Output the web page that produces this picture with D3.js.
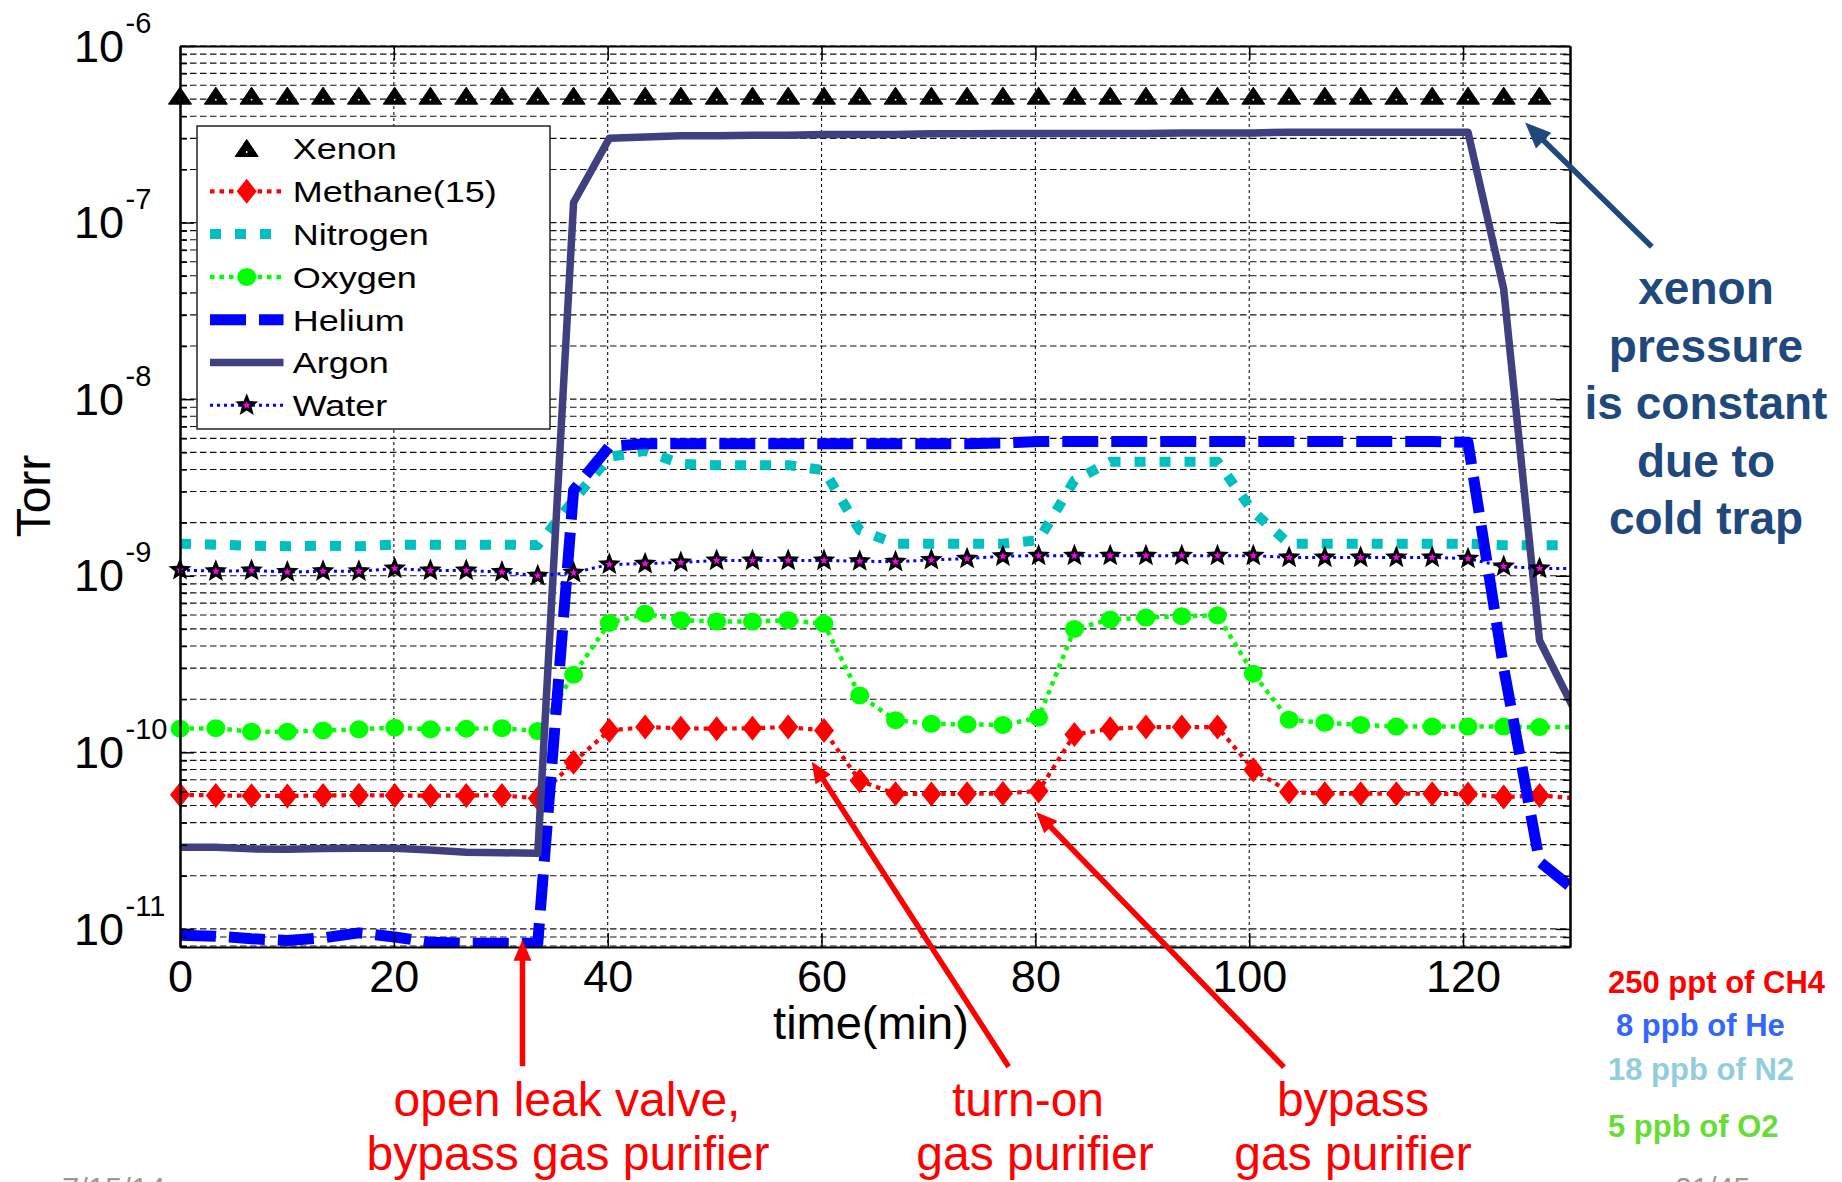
<!DOCTYPE html>
<html>
<head>
<meta charset="utf-8">
<script src="https://cdn.jsdelivr.net/npm/d3@7"></script>
<style>
  body { margin: 0; background: #fff; }
  text { font-family: 'Liberation Sans', Arial, sans-serif; }
</style>
</head>
<body>
<div id="chart"></div>
<script>
// sample times (min) shared by every gas
var times = [0, 3.35, 6.69, 10.04, 13.38, 16.73, 20.08, 23.42, 26.77, 30.11,
  33.46, 36.81, 40.15, 43.5, 46.84, 50.19, 53.54, 56.88, 60.23, 63.57,
  66.92, 70.27, 73.61, 76.96, 80.3, 83.65, 87, 90.34, 93.69, 97.03,
  100.38, 103.73, 107.07, 110.42, 113.76, 117.11, 120.46, 123.8, 127.15, 130.49]

// partial pressures (Torr)
var xenon = [5.2e-7, 5.2e-7, 5.2e-7, 5.2e-7, 5.2e-7, 5.2e-7, 5.2e-7, 5.2e-7, 5.2e-7, 5.2e-7,
  5.2e-7, 5.2e-7, 5.2e-7, 5.2e-7, 5.2e-7, 5.2e-7, 5.2e-7, 5.2e-7, 5.2e-7, 5.2e-7,
  5.2e-7, 5.2e-7, 5.2e-7, 5.2e-7, 5.2e-7, 5.2e-7, 5.2e-7, 5.2e-7, 5.2e-7, 5.2e-7,
  5.2e-7, 5.2e-7, 5.2e-7, 5.2e-7, 5.2e-7, 5.2e-7, 5.2e-7, 5.2e-7, 5.2e-7, 5.2e-7]

var methane = [5.75e-11, 5.7e-11, 5.68e-11, 5.66e-11, 5.7e-11, 5.72e-11, 5.7e-11, 5.68e-11, 5.7e-11, 5.7e-11,
  5.5e-11, 8.8e-11, 1.33e-10, 1.39e-10, 1.37e-10, 1.36e-10, 1.37e-10, 1.39e-10, 1.33e-10, 6.9e-11,
  5.83e-11, 5.8e-11, 5.83e-11, 5.85e-11, 6.04e-11, 1.26e-10, 1.36e-10, 1.39e-10, 1.39e-10, 1.39e-10,
  7.98e-11, 5.96e-11, 5.83e-11, 5.83e-11, 5.83e-11, 5.83e-11, 5.8e-11, 5.58e-11, 5.7e-11, 5.5e-11]

var nitrogen = [1.52e-9, 1.5e-9, 1.48e-9, 1.47e-9, 1.48e-9, 1.47e-9, 1.5e-9, 1.5e-9, 1.5e-9, 1.5e-9,
  1.49e-9, 2.68e-9, 4.7e-9, 5.1e-9, 4.3e-9, 4.23e-9, 4.23e-9, 4.23e-9, 3.96e-9, 1.81e-9,
  1.52e-9, 1.52e-9, 1.52e-9, 1.52e-9, 1.59e-9, 3.47e-9, 4.42e-9, 4.42e-9, 4.42e-9, 4.42e-9,
  2.3e-9, 1.52e-9, 1.52e-9, 1.52e-9, 1.52e-9, 1.52e-9, 1.52e-9, 1.49e-9, 1.49e-9, 1.49e-9]

var oxygen = [1.36e-10, 1.37e-10, 1.31e-10, 1.31e-10, 1.33e-10, 1.35e-10, 1.38e-10, 1.35e-10, 1.36e-10, 1.37e-10,
  1.32e-10, 2.75e-10, 5.4e-10, 6.1e-10, 5.6e-10, 5.5e-10, 5.5e-10, 5.6e-10, 5.35e-10, 2.1e-10,
  1.52e-10, 1.45e-10, 1.44e-10, 1.43e-10, 1.57e-10, 5.0e-10, 5.65e-10, 5.8e-10, 5.9e-10, 5.97e-10,
  2.79e-10, 1.53e-10, 1.47e-10, 1.43e-10, 1.4e-10, 1.4e-10, 1.4e-10, 1.4e-10, 1.39e-10, 1.39e-10]

var helium = [9.2e-12, 9.1e-12, 8.8e-12, 8.6e-12, 8.9e-12, 9.5e-12, 9.0e-12, 8.4e-12, 8.3e-12, 8.3e-12,
  8.3e-12, 3.05e-9, 5.4e-9, 5.6e-9, 5.6e-9, 5.6e-9, 5.6e-9, 5.6e-9, 5.6e-9, 5.6e-9,
  5.6e-9, 5.6e-9, 5.6e-9, 5.65e-9, 5.75e-9, 5.75e-9, 5.75e-9, 5.75e-9, 5.75e-9, 5.75e-9,
  5.75e-9, 5.75e-9, 5.75e-9, 5.75e-9, 5.75e-9, 5.75e-9, 5.7e-9, 3.0e-10, 2.4e-11, 1.65e-11]

var argon = [2.9e-11, 2.9e-11, 2.84e-11, 2.83e-11, 2.85e-11, 2.86e-11, 2.86e-11, 2.8e-11, 2.72e-11, 2.7e-11,
  2.68e-11, 1.3e-7, 3.0e-7, 3.05e-7, 3.1e-7, 3.1e-7, 3.12e-7, 3.12e-7, 3.15e-7, 3.15e-7,
  3.15e-7, 3.18e-7, 3.18e-7, 3.2e-7, 3.2e-7, 3.2e-7, 3.2e-7, 3.2e-7, 3.22e-7, 3.22e-7,
  3.22e-7, 3.25e-7, 3.25e-7, 3.25e-7, 3.25e-7, 3.25e-7, 3.25e-7, 4.2e-8, 4.3e-10, 1.7e-10]

var water = [1.08e-9, 1.06e-9, 1.07e-9, 1.05e-9, 1.06e-9, 1.06e-9, 1.1e-9, 1.07e-9, 1.07e-9, 1.05e-9,
  1.0e-9, 1.04e-9, 1.16e-9, 1.17e-9, 1.19e-9, 1.22e-9, 1.22e-9, 1.22e-9, 1.22e-9, 1.21e-9,
  1.2e-9, 1.23e-9, 1.25e-9, 1.29e-9, 1.3e-9, 1.3e-9, 1.3e-9, 1.3e-9, 1.3e-9, 1.3e-9,
  1.3e-9, 1.27e-9, 1.27e-9, 1.27e-9, 1.27e-9, 1.27e-9, 1.25e-9, 1.13e-9, 1.1e-9, 1.1e-9]

var xTicks = [0, 20, 40, 60, 80, 100, 120]
var xGrid = [20, 40, 60, 80, 100, 120]
var yDecades = [-11, -10, -9, -8, -7, -6]

// annotation arrows: [time, Torr] at the tail and at the tip
var arrows = [
  { from: [32.03, 1.67e-12], to: [32.03, 8.67e-12], color: '#ff0000' },
  { from: [77.5, 1.66e-12], to: [59.08, 8.85e-11], color: '#ff0000' },
  { from: [103.25, 1.65e-12], to: [80.06, 4.6e-11], color: '#ff0000' },
  { from: [137.65, 7.3e-8], to: [125.8, 3.69e-7], color: '#1f497d' }
]

var notes = [
  { lines: ['open leak valve,', 'bypass gas purifier'], x: [567, 568] },
  { lines: ['turn-on', 'gas purifier'], x: [1028, 1035] },
  { lines: ['bypass', 'gas purifier'], x: [1353, 1353] }
]

var xenonNote = ['xenon', 'pressure', 'is constant', 'due to', 'cold trap']

var mixNotes = [
  { label: '250 ppt of CH4', color: '#ff0000' },
  { label: '8 ppb of He', color: '#3366ff' },
  { label: '18 ppb of N2', color: '#92cddc' },
  { label: '5 ppb of O2', color: '#66dd33' }
]

var width = 1842
var height = 1182
var plot = { left: 180, right: 1570, top: 46, bottom: 947 }

var svg = d3
  .select('#chart')
  .append('svg')
  .attr('width', width)
  .attr('height', height)

var x = d3.scaleLinear().domain([0, 130]).range([plot.left, plot.right])
var y = d3.scaleLog().domain([7.9e-12, 1e-6]).range([plot.bottom, plot.top])

var allTicks = y.ticks()
var isMajor = d => Math.abs(Math.log10(d) - Math.round(Math.log10(d))) < 1e-6
var majorTicks = allTicks.filter(isMajor)
var minorTicks = allTicks.filter(d => !isMajor(d))

svg.append('defs')
  .append('clipPath')
  .attr('id', 'plot-clip')
  .append('rect')
  .attr('x', plot.left)
  .attr('y', plot.top)
  .attr('width', plot.right - plot.left)
  .attr('height', plot.bottom - plot.top)

// grid
var grid = svg.append('g').attr('class', 'grid')
grid.selectAll('.hgrid')
  .data(allTicks)
  .enter()
  .append('line')
  .attr('x1', plot.left)
  .attr('x2', plot.right)
  .attr('y1', d => y(d))
  .attr('y2', d => y(d))
  .attr('stroke', '#111')
  .attr('stroke-width', 1.1)
  .attr('stroke-dasharray', '6.5,3.5')

grid.selectAll('.vgrid')
  .data(xGrid)
  .enter()
  .append('line')
  .attr('x1', d => x(d))
  .attr('x2', d => x(d))
  .attr('y1', plot.top)
  .attr('y2', plot.bottom)
  .attr('stroke', '#111')
  .attr('stroke-width', 1.1)
  .attr('stroke-dasharray', '3,3')

// markers
function starPath(R, r) {
  var pts = []
  for (var k = 0; k < 10; k++) {
    var a = -Math.PI / 2 + k * Math.PI / 5
    var rad = k % 2 ? r : R
    pts.push([rad * Math.cos(a), rad * Math.sin(a)])
  }
  return 'M' + pts.map(p => p[0].toFixed(2) + ',' + p[1].toFixed(2)).join('L') + 'Z'
}

function drawMarker(g, type, color) {
  if (type === 'triangle') {
    g.append('path').attr('d', 'M0,-9L11.5,8L-11.5,8Z').attr('fill', '#000')
      .attr('stroke', '#000').attr('stroke-width', 1).attr('stroke-linejoin', 'round')
    g.append('circle').attr('cy', 3.5).attr('r', 0.9).attr('fill', '#fff')
  } else if (type === 'diamond') {
    g.append('path').attr('d', 'M0,-12.5L10,0L0,12.5L-10,0Z').attr('fill', color)
  } else if (type === 'circle') {
    g.append('ellipse').attr('rx', 9.5).attr('ry', 9).attr('fill', color)
  } else if (type === 'star') {
    g.append('path').attr('d', starPath(12, 5.2)).attr('fill', '#000')
    g.append('path').attr('d', starPath(4.2, 1.8)).attr('fill', '#ff00ff')
  }
}

var series = [
  { name: 'Xenon', values: xenon, color: '#000', width: 0, dash: null, marker: 'triangle' },
  { name: 'Methane(15)', values: methane, color: '#ff0000', width: 4.2, dash: '4.5,5', marker: 'diamond' },
  { name: 'Nitrogen', values: nitrogen, color: '#00bfbf', width: 10, dash: '11,14', marker: null },
  { name: 'Oxygen', values: oxygen, color: '#00ff00', width: 4.5, dash: '4.5,5', marker: 'circle' },
  { name: 'Helium', values: helium, color: '#0000ff', width: 11, dash: '36,13', marker: null },
  { name: 'Argon', values: argon, color: '#404080', width: 7.5, dash: null, marker: null },
  { name: 'Water', values: water, color: '#0000ff', width: 3, dash: '3,4', marker: 'star' }
]

var line = d3
  .line()
  .x((d, i) => x(times[i]))
  .y(d => y(d))

var data = svg.append('g').attr('class', 'data')

series.forEach(s => {
  if (s.width > 0) {
    data.append('path')
      .datum(s.values)
      .attr('clip-path', 'url(#plot-clip)')
      .attr('d', line)
      .attr('fill', 'none')
      .attr('stroke', s.color)
      .attr('stroke-width', s.width)
      .attr('stroke-dasharray', s.dash)
      .attr('stroke-linejoin', 'round')
  }
  if (s.marker) {
    var pts = s.values
      .map((v, i) => ({ t: times[i], v: v }))
      .filter(d => d.t <= 130)
    data.selectAll(null)
      .data(pts)
      .enter()
      .append('g')
      .attr('transform', d => 'translate(' + x(d.t) + ',' + y(d.v) + ')')
      .each(function () { drawMarker(d3.select(this), s.marker, s.color) })
  }
})

// axes (ticks point inward, as in MATLAB)
function styleAxis(g) {
  g.select('.domain').attr('stroke', '#000').attr('stroke-width', 2)
  g.selectAll('.tick line').attr('stroke', '#000').attr('stroke-width', 1.5)
}

svg.append('g')
  .attr('transform', 'translate(0,' + plot.bottom + ')')
  .call(d3.axisBottom(x).tickValues(xTicks).tickSizeInner(-14).tickSizeOuter(0)
    .tickPadding(13).tickFormat(d3.format('d')))
  .call(styleAxis)
  .call(g => g.selectAll('.tick text')
    .attr('font-size', 45)
    .attr('font-family', "'Liberation Sans', Arial, sans-serif")
    .attr('fill', '#000'))

svg.append('g')
  .attr('transform', 'translate(0,' + plot.top + ')')
  .call(d3.axisTop(x).tickValues(xTicks).tickSizeInner(-14).tickSizeOuter(0).tickFormat(''))
  .call(styleAxis)

svg.append('g')
  .attr('transform', 'translate(' + plot.left + ',0)')
  .call(d3.axisLeft(y).tickValues(majorTicks).tickSizeInner(-14).tickSizeOuter(0).tickFormat(''))
  .call(styleAxis)
svg.append('g')
  .attr('transform', 'translate(' + plot.left + ',0)')
  .call(d3.axisLeft(y).tickValues(minorTicks).tickSizeInner(-7).tickSizeOuter(0).tickFormat(''))
  .call(styleAxis)

svg.append('g')
  .attr('transform', 'translate(' + plot.right + ',0)')
  .call(d3.axisRight(y).tickValues(majorTicks).tickSizeInner(-14).tickSizeOuter(0).tickFormat(''))
  .call(styleAxis)
svg.append('g')
  .attr('transform', 'translate(' + plot.right + ',0)')
  .call(d3.axisRight(y).tickValues(minorTicks).tickSizeInner(-7).tickSizeOuter(0).tickFormat(''))
  .call(styleAxis)

// y tick labels 10^k
var ylab = svg.append('g')
ylab.selectAll('.base')
  .data(yDecades)
  .enter()
  .append('text')
  .attr('x', 124)
  .attr('y', d => y(Math.pow(10, d)) + 15.7)
  .attr('text-anchor', 'end')
  .attr('font-size', 45)
  .text('10')
ylab.selectAll('.expo')
  .data(yDecades)
  .enter()
  .append('text')
  .attr('x', 125.5)
  .attr('y', d => y(Math.pow(10, d)) - 13.3)
  .attr('font-size', 29)
  .text(d => '-' + Math.abs(d))

svg.append('text')
  .attr('x', 871)
  .attr('y', 1039)
  .attr('text-anchor', 'middle')
  .attr('font-size', 47)
  .text('time(min)')

svg.append('text')
  .attr('transform', 'translate(50,496) rotate(-90)')
  .attr('text-anchor', 'middle')
  .attr('font-size', 48)
  .text('Torr')

// legend
var legend = svg.append('g')
legend.append('rect')
  .attr('x', 197)
  .attr('y', 126)
  .attr('width', 353)
  .attr('height', 303)
  .attr('fill', '#fff')
  .attr('stroke', '#222')
  .attr('stroke-width', 1.5)

series.forEach((s, i) => {
  var ly = 148.5 + i * 42.8
  if (s.width > 0) {
    legend.append('line')
      .attr('x1', 210)
      .attr('x2', 283.5)
      .attr('y1', ly)
      .attr('y2', ly)
      .attr('stroke', s.color)
      .attr('stroke-width', s.width)
      .attr('stroke-dasharray', s.dash)
  }
  if (s.marker) {
    drawMarker(legend.append('g').attr('transform', 'translate(246.7,' + ly + ')'), s.marker, s.color)
  }
  legend.append('g')
    .attr('transform', 'translate(292.7,' + ly + ') scale(1.2,1)')
    .append('text')
    .attr('dy', '0.36em')
    .attr('font-size', 30)
    .attr('fill', '#000')
    .text(s.name)
})

// annotation arrows
var arrowLayer = svg.append('g')
arrows.forEach(a => {
  var p0 = [x(a.from[0]), y(a.from[1])]
  var p1 = [x(a.to[0]), y(a.to[1])]
  var dx = p1[0] - p0[0]
  var dy = p1[1] - p0[1]
  var len = Math.sqrt(dx * dx + dy * dy)
  var ux = dx / len
  var uy = dy / len
  var big = a.color !== '#ff0000'
  var headL = big ? 26 : 21
  var headW = big ? 11 : 9
  var bx = p1[0] - ux * headL
  var by = p1[1] - uy * headL
  arrowLayer.append('line')
    .attr('x1', p0[0])
    .attr('y1', p0[1])
    .attr('x2', bx + ux * 2)
    .attr('y2', by + uy * 2)
    .attr('stroke', a.color)
    .attr('stroke-width', 5.5)
  arrowLayer.append('path')
    .attr('d', 'M' + p1[0] + ',' + p1[1] +
      'L' + (bx - uy * headW) + ',' + (by + ux * headW) +
      'L' + (bx + uy * headW) + ',' + (by - ux * headW) + 'Z')
    .attr('fill', a.color)
})

// annotation texts
notes.forEach(n => {
  n.lines.forEach((t, i) => {
    svg.append('text')
      .attr('x', n.x[i])
      .attr('y', 1116 + i * 54)
      .attr('text-anchor', 'middle')
      .attr('font-size', 48)
      .attr('fill', '#ff0000')
      .text(t)
  })
})

svg.selectAll('.xenon-note')
  .data(xenonNote)
  .enter()
  .append('text')
  .attr('x', 1706)
  .attr('y', (d, i) => 304 + i * 57.5)
  .attr('text-anchor', 'middle')
  .attr('font-size', 46)
  .attr('font-weight', 700)
  .attr('fill', '#1f497d')
  .text(d => d)

var mixY = [993, 1036, 1080, 1137]
var mixX = [1608, 1616, 1608, 1608]
svg.selectAll('.mix-note')
  .data(mixNotes)
  .enter()
  .append('text')
  .attr('x', (d, i) => mixX[i])
  .attr('y', (d, i) => mixY[i])
  .attr('font-family', 'Lato, sans-serif')
  .attr('font-weight', 700)
  .attr('font-size', 31)
  .attr('fill', d => d.color)
  .text(d => d.label)

// slide footer, mostly cut off at the bottom edge
svg.append('text')
  .attr('x', 62)
  .attr('y', 1200)
  .attr('font-size', 31)
  .attr('fill', '#999')
  .text('7/15/14')
svg.append('text')
  .attr('x', 1675)
  .attr('y', 1198)
  .attr('font-size', 30)
  .attr('fill', '#999')
  .text('21/45')
</script>
</body>
</html>
